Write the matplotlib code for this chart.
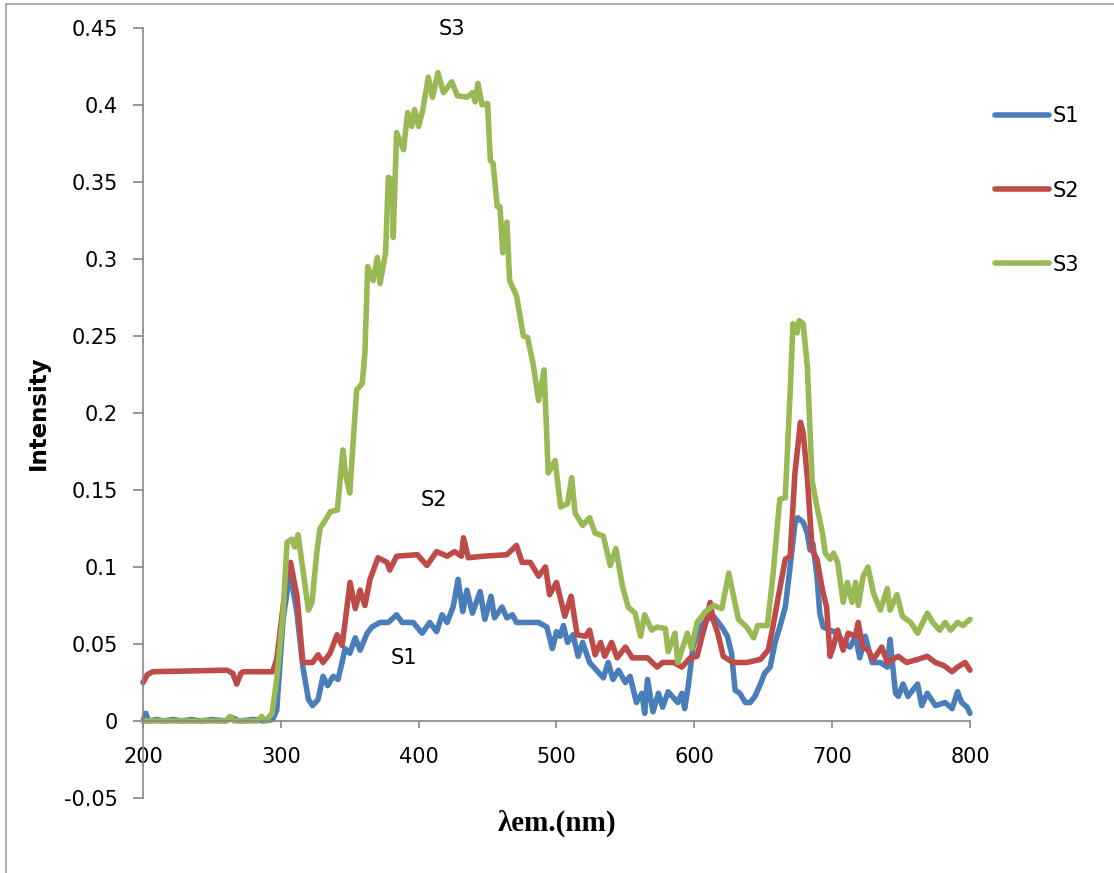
import matplotlib
matplotlib.use("Agg")
import matplotlib.pyplot as plt
from matplotlib.patches import Rectangle

# emission spectra (wavelength nm, intensity)
s1_x = [200, 202, 204, 210, 215, 222, 228, 235, 242, 250, 260, 265, 270, 280, 288, 294, 297,
        301.6, 306.7, 311.7, 316, 320, 323, 327, 330.6, 334, 338, 341.5, 344.4, 346.6, 350, 354,
        357.5, 362.6, 366, 372, 378, 384, 388, 396, 402.5, 408, 413, 417, 420.6, 425, 428.6, 432,
        435, 439, 444.6, 448, 452.5, 455, 460.5, 464, 468, 471, 479, 487, 493, 497, 500, 502.6,
        505, 508, 512, 515.7, 519, 524, 529, 534, 537.5, 541, 545, 550, 553.4, 558, 562, 564,
        566, 570, 574, 577, 581, 585, 588, 591, 593, 595.5, 599, 603, 609, 614, 620, 624, 627,
        629.6, 633, 637, 640.5, 644, 648, 651, 655, 658.6, 662, 666, 669.5, 673, 675, 679, 682,
        684, 686, 689, 691, 693.5, 698.5, 704, 708, 713, 717, 720, 724, 729, 735, 740, 742, 746,
        748, 751.5, 755, 762, 765, 769, 775, 782, 787, 791, 794, 798, 800]
s1_y = [0.000, 0.005, 0.000, 0.001, 0.000, 0.001, 0.000, 0.001, 0.000, 0.001, 0.000, 0.002,
        0.000, 0.001, 0.000, 0.001, 0.007, 0.066, 0.097, 0.070, 0.035, 0.014, 0.010, 0.014,
        0.029, 0.023, 0.029, 0.027, 0.038, 0.047, 0.044, 0.054, 0.046, 0.057, 0.061, 0.064,
        0.064, 0.069, 0.064, 0.064, 0.057, 0.064, 0.058, 0.069, 0.064, 0.074, 0.092, 0.071,
        0.085, 0.070, 0.084, 0.066, 0.081, 0.067, 0.074, 0.067, 0.069, 0.064, 0.064, 0.064,
        0.061, 0.047, 0.058, 0.055, 0.062, 0.051, 0.056, 0.042, 0.051, 0.038, 0.033, 0.028,
        0.038, 0.027, 0.033, 0.025, 0.029, 0.012, 0.018, 0.005, 0.027, 0.006, 0.018, 0.009,
        0.019, 0.015, 0.012, 0.018, 0.008, 0.022, 0.048, 0.059, 0.066, 0.068, 0.061, 0.055,
        0.044, 0.020, 0.018, 0.012, 0.012, 0.016, 0.024, 0.031, 0.035, 0.051, 0.061, 0.074,
        0.100, 0.128, 0.132, 0.129, 0.122, 0.111, 0.115, 0.094, 0.070, 0.061, 0.059, 0.057,
        0.051, 0.048, 0.055, 0.041, 0.055, 0.038, 0.038, 0.035, 0.053, 0.018, 0.016, 0.024,
        0.016, 0.024, 0.010, 0.018, 0.010, 0.012, 0.008, 0.019, 0.012, 0.009, 0.005]

s2_x = [200, 203, 207, 261, 265, 268, 271, 273, 294, 297, 301.6, 305, 307, 311.7, 316, 323, 327,
        330.6, 335.7, 340.8, 344.4, 346.6, 350.2, 354, 357.5, 361, 364.7, 370.5, 377, 379, 384,
        399, 406, 413, 420.6, 426, 431, 432.5, 436, 447, 464, 471, 475, 481, 487, 492, 495, 500,
        506, 510.6, 515, 521, 524, 528, 532, 535, 540, 544, 550, 555, 566, 573, 577, 585, 591,
        597, 602, 605.6, 609, 611.5, 613.6, 617, 621, 628, 638, 648, 653.6, 657, 661, 666,
        669.5, 673, 677, 679, 682, 685.5, 689, 693, 696, 698.5, 700.7, 704, 708, 711.6, 716.7,
        719, 722, 726, 730, 736, 740, 748, 754, 762, 769, 775, 781, 787, 791, 796.5, 800]
s2_y = [0.025, 0.030, 0.032, 0.033, 0.031, 0.024, 0.031, 0.032, 0.032, 0.040, 0.074, 0.100,
        0.103, 0.081, 0.038, 0.038, 0.043, 0.038, 0.044, 0.056, 0.049, 0.064, 0.090, 0.073,
        0.085, 0.075, 0.092, 0.106, 0.103, 0.098, 0.107, 0.108, 0.101, 0.110, 0.107, 0.110,
        0.107, 0.119, 0.106, 0.107, 0.108, 0.114, 0.103, 0.103, 0.094, 0.100, 0.082, 0.090,
        0.068, 0.081, 0.056, 0.055, 0.059, 0.043, 0.051, 0.042, 0.051, 0.041, 0.048, 0.041,
        0.041, 0.035, 0.038, 0.038, 0.035, 0.041, 0.042, 0.055, 0.066, 0.077, 0.066, 0.057,
        0.042, 0.038, 0.038, 0.040, 0.046, 0.061, 0.081, 0.105, 0.107, 0.161, 0.194, 0.187,
        0.158, 0.111, 0.105, 0.085, 0.074, 0.042, 0.048, 0.059, 0.046, 0.057, 0.055, 0.064,
        0.048, 0.046, 0.040, 0.048, 0.038, 0.042, 0.038, 0.040, 0.042, 0.038, 0.036, 0.032,
        0.035, 0.038, 0.033]

s3_x = [200, 260, 263, 266, 283, 286, 289, 293.6, 297, 301.6, 304.5, 308, 310, 312.5, 316, 320,
        322.6, 326, 328.4, 332, 336, 341, 345, 347, 350, 355, 359, 361, 363, 367, 370, 372, 376,
        378, 381, 381.5, 384, 389, 392, 395, 397, 400, 403, 407, 410, 414, 418, 424, 428, 435,
        439, 441, 443, 446, 450, 452, 454, 457, 459, 461, 464, 466, 471, 476, 479, 483, 487, 491,
        494, 499, 503, 508, 511, 513.5, 519, 524, 528, 534, 539, 543, 548, 552, 557, 561, 564,
        569, 573, 579, 581, 586, 588, 595, 598, 602, 608, 614, 620, 625, 628, 632, 638, 643,
        646, 653, 657, 662, 666, 669.5, 671.6, 674.6, 676, 679, 682, 685.5, 689, 693, 695,
        698.5, 701, 704, 708, 711, 714.5, 717, 719, 722.5, 726, 730, 735, 740, 742, 747, 751,
        757, 762, 769, 773, 778, 782, 786, 791, 795, 800]
s3_y = [0.000, 0.000, 0.003, 0.000, 0.000, 0.003, 0.000, 0.005, 0.027, 0.070, 0.116, 0.118,
        0.113, 0.121, 0.098, 0.072, 0.077, 0.109, 0.125, 0.130, 0.136, 0.137, 0.176, 0.160,
        0.148, 0.215, 0.219, 0.239, 0.295, 0.286, 0.301, 0.284, 0.304, 0.353, 0.351, 0.314,
        0.382, 0.371, 0.395, 0.386, 0.397, 0.386, 0.397, 0.418, 0.405, 0.421, 0.408, 0.415,
        0.406, 0.405, 0.408, 0.402, 0.414, 0.400, 0.401, 0.364, 0.362, 0.334, 0.334, 0.304,
        0.324, 0.286, 0.276, 0.250, 0.249, 0.232, 0.208, 0.228, 0.161, 0.169, 0.139, 0.141,
        0.158, 0.135, 0.127, 0.132, 0.122, 0.120, 0.101, 0.112, 0.087, 0.074, 0.070, 0.055,
        0.069, 0.059, 0.061, 0.060, 0.045, 0.057, 0.038, 0.057, 0.047, 0.064, 0.071, 0.075,
        0.073, 0.096, 0.083, 0.066, 0.061, 0.054, 0.062, 0.062, 0.094, 0.144, 0.145, 0.213,
        0.258, 0.252, 0.260, 0.258, 0.230, 0.156, 0.139, 0.122, 0.109, 0.105, 0.109, 0.103,
        0.077, 0.090, 0.077, 0.090, 0.075, 0.094, 0.100, 0.083, 0.072, 0.086, 0.072, 0.082,
        0.068, 0.064, 0.057, 0.070, 0.064, 0.059, 0.064, 0.059, 0.064, 0.062, 0.066]

labels = ["S1", "S2", "S3"]
colors = ["#4A7EBB", "#BE4B48", "#98B954"]
xticks = [200, 300, 400, 500, 600, 700, 800]
yticks = [-0.05, 0, 0.05, 0.1, 0.15, 0.2, 0.25, 0.3, 0.35, 0.4, 0.45]
ytick_labels = ["-0.05", "0", "0.05", "0.1", "0.15", "0.2", "0.25", "0.3", "0.35", "0.4", "0.45"]

plt.rcParams['font.family'] = ['DejaVu Sans']
gray = "#868686"

fig = plt.figure(figsize=(11.14, 8.73), dpi=100)
ax = fig.add_axes([0.1284, 0.0859, 0.7423, 0.8821])

lines = []
for xs, ys, c, lab in zip([s1_x, s2_x, s3_x], [s1_y, s2_y, s3_y], colors, labels):
    ln, = ax.plot(xs, ys, color=c, lw=4.0, label=lab, solid_capstyle='round',
                  solid_joinstyle='round', clip_on=False)
    lines.append(ln)

ax.set_xlim(200, 800)
ax.set_ylim(-0.05, 0.45)
ax.set_xticks(xticks)
ax.set_yticks(yticks)
ax.set_yticklabels(ytick_labels)

for s in ['top', 'right']:
    ax.spines[s].set_visible(False)
ax.spines['bottom'].set_position(('data', 0))
ax.spines['bottom'].set_color(gray)
ax.spines['left'].set_color(gray)
ax.spines['bottom'].set_linewidth(1.2)
ax.spines['left'].set_linewidth(1.2)
ax.tick_params(axis='x', direction='out', length=5, width=1.2, color=gray, pad=14, labelsize=15)
ax.tick_params(axis='y', direction='out', length=7, width=1.2, color=gray, pad=11, labelsize=15)

ax.set_ylabel("Intensity", fontsize=16.5, fontweight='bold', labelpad=10)
ax.set_xlabel("λem.(nm)", fontsize=21, fontweight='bold', family='Liberation Serif')
ax.xaxis.set_label_coords(0.5, -0.033)
ax.xaxis.label.set_va('center')

# series labels placed on the chart
ax.text(424, 0.449, "S3", fontsize=15, ha='center', va='center')
ax.text(411, 0.1435, "S2", fontsize=15, ha='center', va='center')
ax.text(389, 0.041, "S1", fontsize=15, ha='center', va='center')

fig.legend(handles=lines, labels=labels, loc='upper left', bbox_to_anchor=(0.884, 0.890),
           frameon=False, fontsize=15, handlelength=2.6, handletextpad=0.15,
           labelspacing=2.6, borderpad=0)

fig.patches.append(Rectangle((6 / 1114, -0.2), 1.5, 1.2 - 4 / 873, transform=fig.transFigure,
                             fill=False, edgecolor="#A0A0A0", lw=1.2))

fig.savefig("out.png", dpi=100)
